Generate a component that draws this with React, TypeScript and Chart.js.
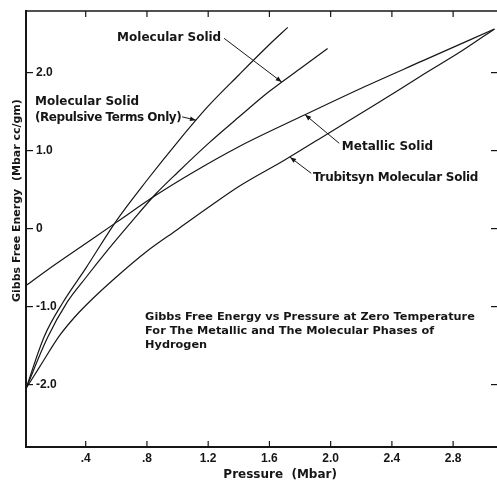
import React, { useEffect, useRef } from "react";
import { Chart, registerables } from "chart.js";

Chart.register(...registerables);

// Axis ticks
const xTicks = [0.4, 0.8, 1.2, 1.6, 2.0, 2.4, 2.8];
const xTickLabels = [".4", ".8", "1.2", "1.6", "2.0", "2.4", "2.8"];
const yTicks = [-2, -1, 0, 1, 2];
const yTickLabels = ["-2.0", "-1.0", "0", "1.0", "2.0"];

// Molecular Solid (Repulsive Terms Only)
const repulsiveP = [0.01, 0.13, 0.25, 0.4, 0.6, 0.8, 1.0, 1.2, 1.4, 1.6, 1.72];
const repulsiveG = [-2.05, -1.38, -0.95, -0.51, 0.1, 0.62, 1.11, 1.57, 1.97, 2.36, 2.58];

// Molecular Solid
const molecularP = [0.01, 0.15, 0.28, 0.4, 0.55, 0.7, 0.86, 1.0, 1.2, 1.4, 1.6, 1.8, 1.98];
const molecularG = [-2.05, -1.4, -0.94, -0.63, -0.26, 0.09, 0.45, 0.72, 1.09, 1.43, 1.76, 2.05, 2.31];

// Metallic Solid
const metallicP = [0.01, 0.2, 0.4, 0.6, 0.86, 1.1, 1.4, 1.8, 2.2, 2.6, 3.07];
const metallicG = [-0.73, -0.46, -0.19, 0.08, 0.43, 0.72, 1.05, 1.43, 1.8, 2.15, 2.56];

// Trubitsyn Molecular Solid
const trubitsynP = [0.01, 0.1, 0.23, 0.33, 0.45, 0.6, 0.8, 1.0, 1.2, 1.4, 1.7, 2.0, 2.3, 2.6, 2.85, 3.07];
const trubitsynG = [-2.05, -1.77, -1.37, -1.13, -0.89, -0.62, -0.29, -0.01, 0.27, 0.54, 0.88, 1.24, 1.6, 1.97, 2.27, 2.56];

const xAxisTitle = "Pressure  (Mbar)";
const yAxisTitle = "Gibbs Free Energy  (Mbar cc/gm)";
const captionLines = [
  "Gibbs Free Energy vs Pressure at Zero Temperature",
  "For The Metallic and The Molecular Phases of",
  "Hydrogen",
];

const toPoints = (xs: number[], ys: number[]) => xs.map((x, i) => ({ x, y: ys[i] }));

const INK = "#161616";
const FONT = '"DejaVu Sans"';

function line(ctx: CanvasRenderingContext2D, x1: number, y1: number, x2: number, y2: number) {
  ctx.beginPath();
  ctx.moveTo(x1, y1);
  ctx.lineTo(x2, y2);
  ctx.stroke();
}

function arrow(ctx: CanvasRenderingContext2D, x1: number, y1: number, x2: number, y2: number) {
  ctx.lineWidth = 1;
  line(ctx, x1, y1, x2, y2);
  const ang = Math.atan2(y2 - y1, x2 - x1);
  const len = 6;
  const w = 2.4;
  ctx.beginPath();
  ctx.moveTo(x2, y2);
  ctx.lineTo(x2 - len * Math.cos(ang) + w * Math.sin(ang), y2 - len * Math.sin(ang) - w * Math.cos(ang));
  ctx.lineTo(x2 - len * Math.cos(ang) - w * Math.sin(ang), y2 - len * Math.sin(ang) + w * Math.cos(ang));
  ctx.closePath();
  ctx.fill();
}

function spaced(ctx: any, spacing: string) {
  if ("letterSpacing" in ctx) ctx.letterSpacing = spacing;
}

const framePlugin = {
  id: "frame",
  afterDatasetsDraw(chart: any) {
    const { ctx, chartArea: a, scales } = chart;
    const xs = scales.x;
    const ys = scales.y;
    const W = chart.width;
    ctx.save();
    ctx.strokeStyle = INK;
    ctx.fillStyle = INK;
    // frame
    ctx.lineWidth = 2;
    line(ctx, a.left, a.top - 1, a.left, a.bottom + 1);
    line(ctx, a.left - 1, a.bottom, W, a.bottom);
    ctx.lineWidth = 1.5;
    line(ctx, a.left, a.top, W, a.top);
    // inward ticks
    ctx.lineWidth = 1.2;
    xTicks.forEach((v) => {
      const px = xs.getPixelForValue(v);
      line(ctx, px, a.bottom, px, a.bottom - 6);
      line(ctx, px, a.top, px, a.top + 6);
    });
    yTicks.forEach((v) => {
      const py = ys.getPixelForValue(v);
      line(ctx, a.left, py, a.left + 7, py);
      line(ctx, W, py, W - 6, py);
    });

    const P = (x: number, y: number) => [xs.getPixelForValue(x), ys.getPixelForValue(y)];

    // curve labels
    ctx.textAlign = "left";
    ctx.textBaseline = "middle";
    ctx.font = `bold 12px ${FONT}`;
    let p = P(0.605, 2.44);
    ctx.fillText("Molecular Solid", p[0], p[1]);
    let s = P(1.304, 2.44);
    let t = P(1.68, 1.88);
    arrow(ctx, s[0], s[1], t[0], t[1]);

    p = P(0.069, 1.631);
    ctx.fillText("Molecular Solid", p[0], p[1]);
    spaced(ctx, "-0.45px");
    p = P(0.069, 1.426);
    ctx.fillText("(Repulsive Terms Only)", p[0], p[1]);
    spaced(ctx, "0px");
    s = P(1.03, 1.433);
    t = P(1.12, 1.39);
    arrow(ctx, s[0], s[1], t[0], t[1]);

    p = P(2.073, 1.046);
    ctx.fillText("Metallic Solid", p[0], p[1]);
    s = P(2.056, 1.094);
    t = P(1.833, 1.46);
    arrow(ctx, s[0], s[1], t[0], t[1]);

    spaced(ctx, "-0.25px");
    p = P(1.884, 0.645);
    ctx.fillText("Trubitsyn Molecular Solid", p[0], p[1]);
    spaced(ctx, "0px");
    s = P(1.873, 0.709);
    t = P(1.735, 0.915);
    arrow(ctx, s[0], s[1], t[0], t[1]);

    // caption
    ctx.font = `bold 11.3px ${FONT}`;
    const capY = [-1.14, -1.315, -1.49];
    captionLines.forEach((l, i) => {
      const q = P(0.788, capY[i]);
      ctx.fillText(l, q[0], q[1]);
    });

    // axis titles
    ctx.font = `bold 12px ${FONT}`;
    ctx.textAlign = "center";
    const xt = xs.getPixelForValue(1.67);
    ctx.fillText(xAxisTitle, xt, a.bottom + 28);

    ctx.font = `bold 11px ${FONT}`;
    const yt = ys.getPixelForValue(0.36);
    ctx.translate(17, yt);
    ctx.rotate(-Math.PI / 2);
    ctx.fillText(yAxisTitle, 0, 0);
    ctx.restore();
  },
};

export default function App() {
  const ref = useRef<HTMLCanvasElement | null>(null);

  useEffect(() => {
    if (!ref.current) return;
    const common = {
      borderColor: INK,
      borderWidth: 1.2,
      pointRadius: 0,
      fill: false,
      cubicInterpolationMode: "monotone" as const,
    };
    const chart = new Chart(ref.current, {
      type: "line",
      data: {
        datasets: [
          { label: "Molecular Solid (Repulsive Terms Only)", data: toPoints(repulsiveP, repulsiveG), ...common },
          { label: "Molecular Solid", data: toPoints(molecularP, molecularG), ...common },
          { label: "Metallic Solid", data: toPoints(metallicP, metallicG), ...common },
          { label: "Trubitsyn Molecular Solid", data: toPoints(trubitsynP, trubitsynG), ...common },
        ],
      },
      options: {
        animation: false,
        responsive: true,
        maintainAspectRatio: false,
        layout: { padding: { top: 11, right: 1, left: 0, bottom: 0 } },
        plugins: {
          legend: { display: false },
          tooltip: { enabled: false },
          title: { display: false },
        },
        scales: {
          x: {
            type: "linear",
            min: 0.01,
            max: 3.08,
            grid: { display: false, drawTicks: false },
            border: { display: false },
            afterBuildTicks: (scale: any) => {
              scale.ticks = xTicks.map((v) => ({ value: v }));
            },
            afterFit: (scale: any) => {
              scale.height = 37;
              scale.paddingLeft = 0;
              scale.paddingRight = 0;
            },
            ticks: {
              padding: 4,
              color: INK,
              font: { family: "Liberation Sans", weight: "bold", size: 12 },
              callback: (v: any) => {
                const i = xTicks.findIndex((t) => Math.abs(t - Number(v)) < 1e-6);
                return i >= 0 ? xTickLabels[i] : "";
              },
            },
          },
          y: {
            type: "linear",
            min: -2.8,
            max: 2.79,
            grid: { display: false, drawTicks: false },
            border: { display: false },
            afterBuildTicks: (scale: any) => {
              scale.ticks = yTicks.map((v) => ({ value: v }));
            },
            afterFit: (scale: any) => {
              scale.width = 26;
              scale.paddingTop = 0;
              scale.paddingBottom = 0;
            },
            ticks: {
              mirror: true,
              padding: 10,
              color: INK,
              font: { family: "Liberation Sans", weight: "bold", size: 12 },
              callback: (v: any) => {
                const i = yTicks.findIndex((t) => Math.abs(t - Number(v)) < 1e-6);
                return i >= 0 ? yTickLabels[i] : "";
              },
            },
          },
        },
      },
      plugins: [framePlugin],
    });
    return () => chart.destroy();
  }, []);

  return (
    <div style={{ position: "fixed", left: 0, top: 0, width: 497, height: 484, background: "#fff" }}>
      <canvas ref={ref} />
    </div>
  );
}
